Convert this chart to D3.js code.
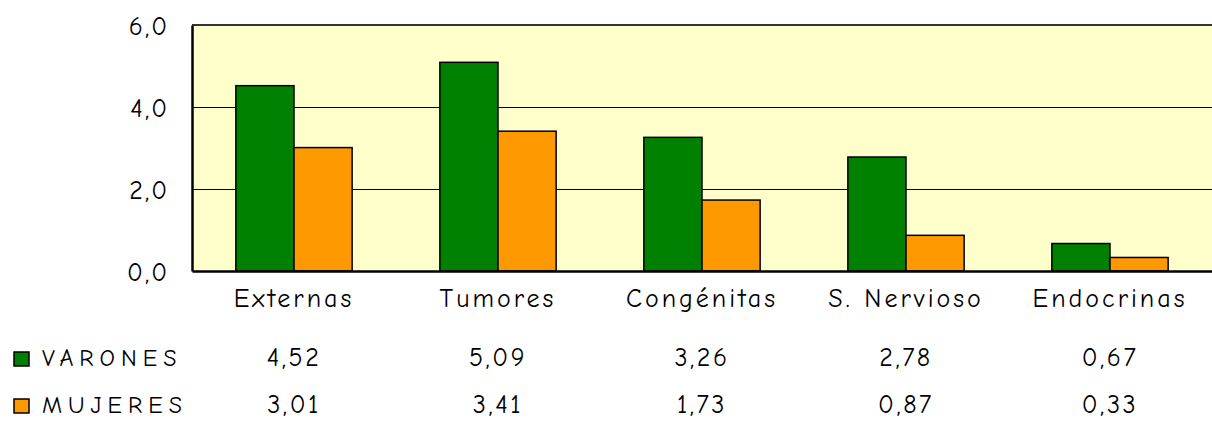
<!DOCTYPE html>
<html>
<head>
<meta charset="utf-8">
<script src="https://cdn.jsdelivr.net/npm/d3@7"></script>
<style>
  html, body { margin: 0; padding: 0; background: #fff; }
  svg { display: block; }
  text { font-family: "Comic Sans MS", "Comic Neue", "DejaVu Sans", sans-serif; fill: #000; }
</style>
</head>
<body>
<svg id="chart" width="1212" height="421"></svg>
<script>
// Causes of death, rate by sex
const categories = ["Externas", "Tumores", "Congénitas", "S. Nervioso", "Endocrinas"];
const seriesNames = ["VARONES", "MUJERES"];
const varones = [4.52, 5.09, 3.26, 2.78, 0.67];
const mujeres = [3.01, 3.41, 1.73, 0.87, 0.33];
const yTicks = [0, 2, 4, 6];
const colors = ["#008000", "#FF9900"];

const series = [varones, mujeres];
const fmt = v => v.toFixed(2).replace(".", ",");
const fmtTick = v => v.toFixed(1).replace(".", ",");

const svg = d3.select("#chart");
const plot = { left: 192, right: 1212, top: 25, bottom: 271 };

const x = d3.scaleBand().domain(categories).range([plot.left, plot.right]).paddingInner(0.43).paddingOuter(0.215);
const xs = d3.scaleBand().domain(seriesNames).range([0, x.bandwidth()]);
const y = d3.scaleLinear().domain([0, 6]).range([plot.bottom, plot.top]);

// plot background
svg.append("rect")
  .attr("x", plot.left).attr("y", plot.top)
  .attr("width", plot.right - plot.left).attr("height", plot.bottom - plot.top)
  .attr("fill", "#FFFFCC");

// horizontal gridlines
svg.append("g")
  .selectAll("line")
  .data(yTicks.filter(t => t > 0 && t < 6))
  .join("line")
  .attr("x1", plot.left).attr("x2", plot.right)
  .attr("y1", d => y(d) + 0.5).attr("y2", d => y(d) + 0.5)
  .attr("stroke", "#000").attr("stroke-width", 1);

// top border
svg.append("line")
  .attr("x1", plot.left).attr("x2", plot.right)
  .attr("y1", y(6)).attr("y2", y(6))
  .attr("stroke", "#333").attr("stroke-width", 2);

// bars
const groups = svg.append("g").selectAll("g")
  .data(categories)
  .join("g")
  .attr("transform", d => `translate(${x(d)},0)`);

groups.selectAll("rect")
  .data((d, i) => seriesNames.map((s, j) => ({ s, v: series[j][i], j })))
  .join("rect")
  .attr("x", d => xs(d.s))
  .attr("y", d => y(d.v))
  .attr("width", xs.bandwidth())
  .attr("height", d => y(0) - y(d.v))
  .attr("fill", d => colors[d.j])
  .attr("stroke", "#000")
  .attr("stroke-width", 1.5);

// left axis
const yAxis = d3.axisLeft(y).tickValues(yTicks).tickFormat(fmtTick).tickSize(0).tickPadding(23);
const yg = svg.append("g").attr("transform", `translate(${plot.left},0)`).call(yAxis);
yg.select(".domain").attr("stroke", "#000").attr("stroke-width", 2.5);
yg.selectAll("text")
  .attr("font-size", 26).attr("letter-spacing", 2)
  .attr("dy", 9).attr("font-family", null);

// bottom axis
const xAxis = d3.axisBottom(x).tickSize(0).tickPadding(0);
const xg = svg.append("g").attr("transform", `translate(0,${plot.bottom})`).call(xAxis);
xg.select(".domain").attr("stroke", "#000").attr("stroke-width", 2.5);
xg.selectAll("text")
  .attr("font-size", 26).attr("letter-spacing", 3)
  .attr("y", 36).attr("dy", null).attr("font-family", null);

// data table with legend keys
const rowBase = [366, 413];
const table = svg.append("g");
seriesNames.forEach((name, j) => {
  table.append("rect")
    .attr("x", 14).attr("y", rowBase[j] - 14)
    .attr("width", 15).attr("height", 14)
    .attr("fill", colors[j]).attr("stroke", "#000").attr("stroke-width", 1.5);
  table.append("text")
    .attr("x", 42).attr("y", rowBase[j])
    .attr("font-size", 24).attr("letter-spacing", 6)
    .text(name);
  table.selectAll(null)
    .data(categories)
    .join("text")
    .attr("x", d => x(d) + x.bandwidth() / 2)
    .attr("y", rowBase[j])
    .attr("text-anchor", "middle")
    .attr("font-size", 26).attr("letter-spacing", 2.5)
    .text((d, i) => fmt(series[j][i]));
});
</script>
</body>
</html>
